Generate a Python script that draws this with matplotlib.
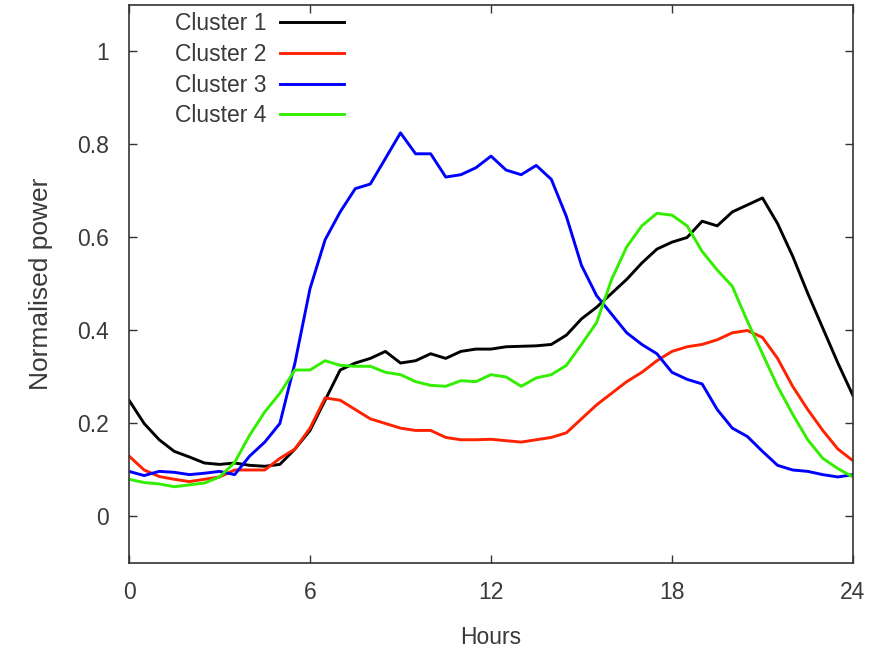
import numpy as np
import matplotlib
matplotlib.use("Agg")
import matplotlib.pyplot as plt

# Tageslastgänge der vier Cluster (halbstündlich)
stunden = np.arange(0, 24.01, 0.5)

cluster1 = [0.25, 0.20, 0.165, 0.14, 0.128, 0.115, 0.112, 0.115, 0.11, 0.108,
            0.112, 0.145, 0.185, 0.25, 0.315, 0.33, 0.34, 0.355, 0.33, 0.335,
            0.35, 0.34, 0.355, 0.36, 0.36, 0.365, 0.366, 0.367, 0.37, 0.39,
            0.425, 0.45, 0.48, 0.51, 0.545, 0.575, 0.59, 0.60, 0.635, 0.625,
            0.655, 0.67, 0.685, 0.63, 0.56, 0.48, 0.405, 0.33, 0.26]

cluster2 = [0.13, 0.10, 0.086, 0.08, 0.075, 0.08, 0.085, 0.10, 0.10, 0.10,
            0.125, 0.145, 0.19, 0.255, 0.25, 0.23, 0.21, 0.20, 0.19, 0.185,
            0.185, 0.17, 0.165, 0.165, 0.166, 0.163, 0.16, 0.165, 0.17, 0.18,
            0.21, 0.24, 0.265, 0.29, 0.31, 0.335, 0.355, 0.365, 0.37, 0.38,
            0.395, 0.40, 0.385, 0.34, 0.28, 0.23, 0.185, 0.145, 0.12]

cluster3 = [0.097, 0.088, 0.097, 0.095, 0.09, 0.093, 0.097, 0.09, 0.13, 0.16,
            0.20, 0.33, 0.49, 0.595, 0.655, 0.705, 0.715, 0.77, 0.825, 0.78,
            0.78, 0.73, 0.735, 0.75, 0.775, 0.745, 0.735, 0.755, 0.725, 0.645,
            0.54, 0.475, 0.435, 0.395, 0.37, 0.35, 0.31, 0.295, 0.285, 0.23,
            0.19, 0.172, 0.14, 0.11, 0.10, 0.097, 0.09, 0.085, 0.09]

cluster4 = [0.08, 0.073, 0.07, 0.064, 0.068, 0.072, 0.085, 0.116, 0.175, 0.225,
            0.265, 0.315, 0.315, 0.335, 0.325, 0.323, 0.323, 0.31, 0.305, 0.29,
            0.282, 0.28, 0.292, 0.29, 0.305, 0.30, 0.28, 0.298, 0.305, 0.325,
            0.37, 0.417, 0.51, 0.58, 0.625, 0.652, 0.648, 0.625, 0.57, 0.53,
            0.495, 0.42, 0.35, 0.28, 0.22, 0.165, 0.125, 0.103, 0.085]

namen = ['Cluster 1', 'Cluster 2', 'Cluster 3', 'Cluster 4']
farben = ['#000000', '#ff2200', '#0000ff', '#33ee00']

textfarbe = '#3a3a3a'
plt.rcParams['font.family'] = ['Liberation Sans', 'DejaVu Sans']
plt.rcParams['font.size'] = 16.5

fig = plt.figure(figsize=(8.76, 6.48), dpi=100)
ax = fig.add_axes([0.1473, 0.1312, 0.8264, 0.8611])

for werte, name, farbe in zip([cluster1, cluster2, cluster3, cluster4], namen, farben):
    ax.plot(stunden, werte, color=farbe, linewidth=2.1, label=name)

ax.set_xlim(0, 24)
ax.set_ylim(-0.1, 1.1)
ax.set_xticks([0, 6, 12, 18, 24])
ax.set_yticks([0, 0.2, 0.4, 0.6, 0.8, 1])
ax.set_yticklabels(['0', '0.2', '0.4', '0.6', '0.8', '1'])
ax.tick_params(direction='in', length=6, width=1, top=True, right=True,
               colors='#333333', labelcolor=textfarbe)
ax.tick_params(axis='y', pad=14.5)
ax.tick_params(axis='x', pad=13)
for spine in ax.spines.values():
    spine.set_color('#333333')
    spine.set_linewidth(1.2)

ax.set_xlabel('Hours', color=textfarbe, labelpad=16)
ax.set_ylabel('Normalised power', color=textfarbe, fontsize=19, labelpad=17)

leg = ax.legend(loc='upper left', bbox_to_anchor=(0.0635, 0.9875), frameon=False,
                markerfirst=False, handlelength=2.8, handletextpad=0.6,
                labelspacing=0.34, borderpad=0, borderaxespad=0)
for t in leg.get_texts():
    t.set_color(textfarbe)

fig.savefig('out.png', dpi=100)
